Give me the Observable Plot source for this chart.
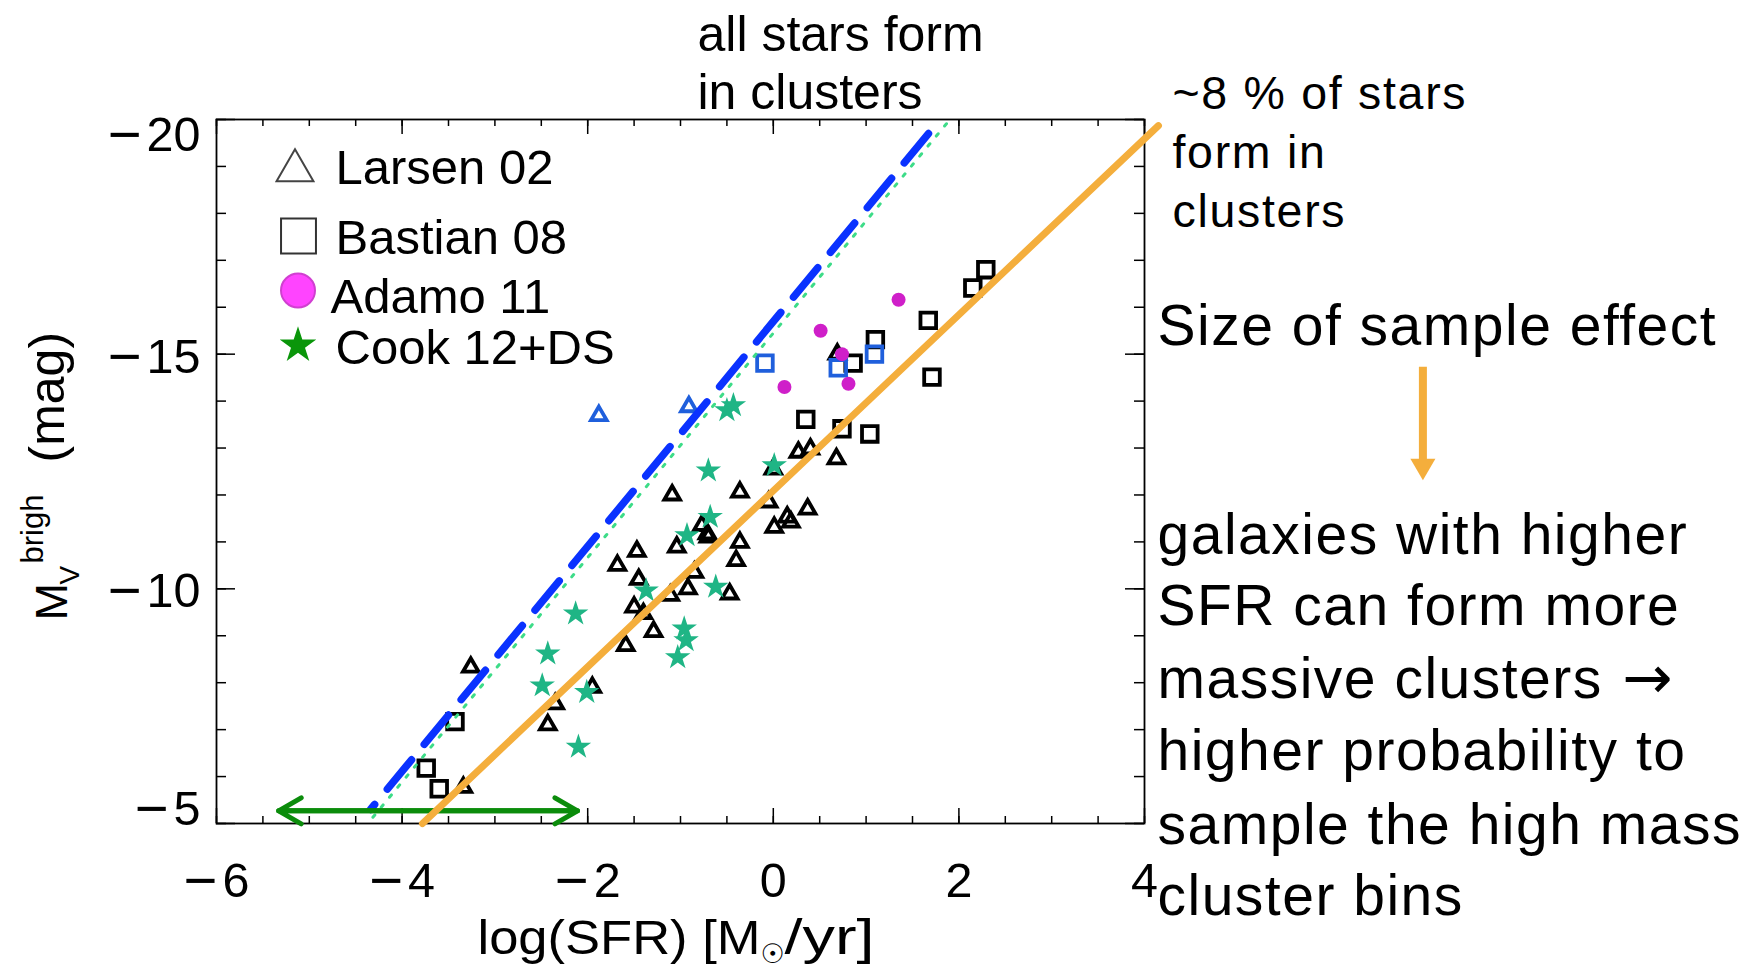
<!DOCTYPE html>
<html>
<head>
<meta charset="utf-8">
<script src="https://cdn.jsdelivr.net/npm/d3@7"></script>
<script src="https://cdn.jsdelivr.net/npm/@observablehq/plot@0.6"></script>
<style>
html, body { margin: 0; padding: 0; background: #fff; }
#chart svg { display: block; }
g[font-size="57"], g[font-size="57px"] { letter-spacing: 1.5px; }
g[font-size="46.5"], g[font-size="46.5px"] { letter-spacing: 1.7px; }
</style>
</head>
<body>
<div id="chart"></div>
<script>
// ---------------- data ----------------
// Larsen 02 (black open triangles)
const larsenX = [-3.26,-3.34,-2.35,-2.43,-1.95,-1.59,-1.29,-1.50,-1.40,-1.68,-1.47,-1.45,-1.11,-0.92,-0.47,-0.85,-1.04,-0.40,-0.36,-0.77,-0.71,-0.70,-1.09,-0.36,0.00,-0.05,0.37,0.15,0.19,0.01,0.27,0.40,0.68,0.69];
const larsenY = [-8.33,-5.77,-7.55,-7.10,-7.90,-8.79,-9.09,-9.61,-9.47,-10.50,-10.80,-10.20,-9.86,-10.00,-9.89,-10.35,-10.89,-10.60,-10.99,-11.35,-11.17,-11.10,-12.00,-12.06,-12.55,-11.85,-11.70,-11.53,-11.42,-11.31,-12.91,-12.98,-12.77,-15.00];
// Larsen 02 highlighted (blue open triangles)
const larsenBlueX = [-1.88,-0.91];
const larsenBlueY = [-13.69,-13.88];
// Bastian 08 (black open squares)
const bastianX = [-3.43,-3.74,-3.60,0.35,0.74,1.04,0.86,1.10,1.71,1.67,2.15,2.29];
const bastianY = [-7.17,-6.18,-5.74,-13.61,-13.41,-13.30,-14.81,-15.31,-14.51,-15.72,-16.41,-16.80];
// Bastian 08 highlighted (blue open squares)
const bastianBlueX = [-0.09,0.70,1.09];
const bastianBlueY = [-14.81,-14.71,-15.00];
// Adamo 11 (magenta dots)
const adamoX = [0.12,0.51,0.74,0.81,1.35];
const adamoY = [-14.30,-15.50,-15.00,-14.37,-16.16];
// Cook 12 + DS (green stars)
const cookX = [-0.50,-0.43,-0.70,0.01,-0.68,-0.93,-1.37,-0.62,-2.13,-0.96,-0.94,-1.03,-2.43,-2.49,-2.01,-2.10];
const cookY = [-13.80,-13.91,-12.52,-12.63,-11.53,-11.14,-9.96,-10.04,-9.47,-9.15,-8.90,-8.54,-8.62,-7.94,-7.80,-6.63];

// relations drawn as lines (end points)
const allClustersDashX = [1.672, -4.34];
const allClustersDashY = [-19.70, -5.30];
const allClustersDotX = [1.866, -4.37];
const allClustersDotY = [-19.91, -5.00];
const eightPctX = [-3.78, 4.15];
const eightPctY = [-5.00, -19.87];
// sample-size range (double arrow)
const rangeX = [-5.33, -2.11];
const rangeY = -5.27;

// axes
const xMajor = [-6, -4, -2, 0, 2, 4];
const xMinor = [-6,-5.5,-5,-4.5,-4,-3.5,-3,-2.5,-2,-1.5,-1,-0.5,0,0.5,1,1.5,2,2.5,3,3.5,4];
const yMajor = [-20, -15, -10, -5];
const yMinor = [-20,-19,-18,-17,-16,-15,-14,-13,-12,-11,-10,-9,-8,-7,-6,-5];

// legend
const legendLabels = ["Larsen 02", "Bastian 08", "Adamo 11", "Cook 12+DS"];

// texts
const noteTop = ["all stars form", "in clusters"];
const noteEight = ["~8 % of stars", "form in", "clusters"];
const noteSize = "Size of sample effect";
const noteBody = ["galaxies with higher", "SFR can form more", "massive clusters", "higher probability to", "sample the high mass", "cluster bins"];

// ---------------- build ----------------
const pts = (xs, ys) => xs.map((x, i) => ({x, y: ys[i]}));
const larsen = pts(larsenX, larsenY);
const larsenBlue = pts(larsenBlueX, larsenBlueY);
const bastian = pts(bastianX, bastianY);
const bastianBlue = pts(bastianBlueX, bastianBlueY);
const adamo = pts(adamoX, adamoY);
const cook = pts(cookX, cookY);
const dashLine = pts(allClustersDashX, allClustersDashY);
const dotLine = pts(allClustersDotX, allClustersDotY);
const eightLine = pts(eightPctX, eightPctY);

const W = 1751, H = 966, mL = 216, mR = 607, mT = 119, mB = 143;
const plotW = W - mL - mR, plotH = H - mT - mB;
const TICK_FS = 48.5;
const fmt = d => d < 0 ? "\u2212" + (-d) : String(d);

const ORANGE = "#f4ae3c", BLUE_LINE = "#0a32ff", DOT_GREEN = "#3ddc88",
      PT_BLUE = "#1f5fdc", MAGENTA = "#cf1fc9", TEAL = "#1fb585", DKGREEN = "#0b8c0b";

// one text line, baseline placed at pixel (px, baseline)
const line = (s, px, baseline, opts = {}) => Plot.text([s], {
  frameAnchor: "top-left", text: d => d, dx: px - mL, dy: baseline - mT,
  textAnchor: "start", lineAnchor: "bottom", ...opts
});
const block = (lines, px, baselines, opts) => lines.map((s, i) => line(s, px, baselines[i], opts));

const legendRows = [
  {sym: "triangle", cx: 294.5, cy: 170, r: 13.7, fill: "none", stroke: "#444", tx: 335, ty: 183},
  {sym: "square", cx: 298, cy: 235.5, r: 19.7, fill: "none", stroke: "#333", tx: 335, ty: 253},
  {sym: "circle", cx: 297.5, cy: 290, r: 17, fill: "#ff44ff", stroke: "#d040d0", tx: 330, ty: 312},
  {sym: "star", cx: 297.5, cy: 345, r: 11.5, fill: "#0a960a", stroke: "none", tx: 335, ty: 363}
];

const midY = mT + plotH / 2;
const marks = [
  // ticks (inside, on all four sides)
  Plot.ruleX(xMajor, {x: d => d, insetTop: plotH - 15, stroke: "black", strokeWidth: 1.5}),
  Plot.ruleX(xMajor, {x: d => d, insetBottom: plotH - 15, stroke: "black", strokeWidth: 1.5}),
  Plot.ruleX(xMinor, {x: d => d, insetTop: plotH - 7, stroke: "black", strokeWidth: 1.5}),
  Plot.ruleX(xMinor, {x: d => d, insetBottom: plotH - 7, stroke: "black", strokeWidth: 1.5}),
  Plot.ruleY(yMajor, {y: d => d, insetRight: plotW - 19, stroke: "black", strokeWidth: 1.5}),
  Plot.ruleY(yMajor, {y: d => d, insetLeft: plotW - 19, stroke: "black", strokeWidth: 1.5}),
  Plot.ruleY(yMinor, {y: d => d, insetRight: plotW - 10, stroke: "black", strokeWidth: 1.5}),
  Plot.ruleY(yMinor, {y: d => d, insetLeft: plotW - 10, stroke: "black", strokeWidth: 1.5}),
  Plot.frame({stroke: "black", strokeWidth: 1.8}),

  // tick labels
  Plot.text(xMajor, {x: d => d, frameAnchor: "bottom", text: fmt, fontSize: TICK_FS, lineAnchor: "bottom", dy: 896 - (H - mB)}),
  Plot.text(yMajor.slice(0, 1), {y: d => d, frameAnchor: "left", text: fmt, fontSize: TICK_FS, textAnchor: "end", dx: -16, lineAnchor: "bottom", dy: 31}),
  Plot.text(yMajor.slice(1, 3), {y: d => d, frameAnchor: "left", text: fmt, fontSize: TICK_FS, textAnchor: "end", dx: -16, lineAnchor: "middle", dy: 3}),
  Plot.text(yMajor.slice(3), {y: d => d, frameAnchor: "left", text: fmt, fontSize: TICK_FS, textAnchor: "end", dx: -16, lineAnchor: "bottom", dy: 1}),

  // x axis title: log(SFR) [M_sun/yr]
  line("log(SFR) [M", 477, 953, {fontSize: 48}),
  line("\u2609", 760, 962, {fontSize: 27, fontFamily: "DejaVu Sans"}),
  line("/yr]", 784, 953, {fontSize: 50}),

  // y axis title: M_V^brigh (mag), rotated
  Plot.text(["M"], {frameAnchor: "left", text: d => d, dx: 66 - mL, dy: 620 - midY, rotate: -90, textAnchor: "start", lineAnchor: "bottom", fontSize: 45}),
  Plot.text(["V"], {frameAnchor: "left", text: d => d, dx: 78 - mL, dy: 584 - midY, rotate: -90, textAnchor: "start", lineAnchor: "bottom", fontSize: 28}),
  Plot.text(["brigh"], {frameAnchor: "left", text: d => d, dx: 42 - mL, dy: 563 - midY, rotate: -90, textAnchor: "start", lineAnchor: "bottom", fontSize: 31}),
  Plot.text(["(mag)"], {frameAnchor: "left", text: d => d, dx: 63 - mL, dy: 462 - midY, rotate: -90, textAnchor: "start", lineAnchor: "bottom", fontSize: 50}),

  // data points
  Plot.dot(larsen, {x: "x", y: "y", symbol: "triangle", r: 5.8, stroke: "black", strokeWidth: 3.8, fill: "none"}),
  Plot.dot(bastian, {x: "x", y: "y", symbol: "square", r: 8.8, stroke: "black", strokeWidth: 3.8, fill: "none"}),
  Plot.dot(larsenBlue, {x: "x", y: "y", symbol: "triangle", r: 5.8, stroke: PT_BLUE, strokeWidth: 3.8, fill: "none"}),
  Plot.dot(bastianBlue, {x: "x", y: "y", symbol: "square", r: 8.8, stroke: PT_BLUE, strokeWidth: 3.8, fill: "none"}),
  Plot.dot(adamo, {x: "x", y: "y", r: 7, fill: MAGENTA, stroke: "none"}),
  Plot.dot(cook, {x: "x", y: "y", symbol: "star", r: 8, fill: TEAL, stroke: "none"}),

  // relations
  Plot.line(dotLine, {x: "x", y: "y", stroke: DOT_GREEN, strokeWidth: 3, strokeDasharray: "3,10"}),
  Plot.line(dashLine, {x: "x", y: "y", stroke: BLUE_LINE, strokeWidth: 7.5, strokeDasharray: "38,20"}),
  Plot.arrow([{}], {x1: rangeX[0], x2: rangeX[1], y1: rangeY, y2: rangeY, stroke: DKGREEN, strokeWidth: 5, headLength: 7.8, headAngle: 60}),
  Plot.arrow([{}], {x1: rangeX[1], x2: rangeX[0], y1: rangeY, y2: rangeY, stroke: DKGREEN, strokeWidth: 5, headLength: 7.8, headAngle: 60}),
  Plot.line(eightLine, {x: "x", y: "y", stroke: ORANGE, strokeWidth: 7}),

  // legend
  ...legendRows.map((row, i) => Plot.dot([legendLabels[i]], {frameAnchor: "top-left", dx: row.cx - mL, dy: row.cy - mT, symbol: row.sym, r: row.r, fill: row.fill, stroke: row.stroke, strokeWidth: 2})),
  ...legendRows.map((row, i) => line(legendLabels[i], row.tx, row.ty, {fontSize: 49})),

  // annotations
  ...block(noteTop, 697, [50, 108], {fontSize: 50}),
  ...block(noteEight, 1172, [108, 167, 226], {fontSize: 46.5}),
  line(noteSize, 1157, 344, {fontSize: 57}),
  ...block(noteBody, 1157, [553, 624, 697, 769, 843, 914], {fontSize: 57}),
  line("\u2192", 1622, 697, {fontSize: 60, fontFamily: "DejaVu Sans"}),

  // orange arrow in the annotation column
  Plot.ruleX([7.0], {x: d => d, y1: -14.72, y2: -12.7, stroke: ORANGE, strokeWidth: 8}),
  Plot.dot([7.0], {x: d => d, y: () => -12.62, symbol: "triangle", rotate: 180, r: 9.3, fill: ORANGE, stroke: "none"})
];

const chart = Plot.plot({
  width: W, height: H,
  marginLeft: mL, marginRight: mR, marginTop: mT, marginBottom: mB,
  x: {type: "linear", domain: [-6, 4], axis: null},
  y: {type: "linear", domain: [-20, -5], reverse: true, axis: null},
  style: {fontFamily: "'Liberation Sans', Arial, Helvetica, sans-serif", background: "white", color: "black", overflow: "visible"},
  marks
});
document.getElementById("chart").appendChild(chart);

// axis-title pieces: widen to the widths seen in the picture
const stretch = {"log(SFR) [M": 283, "/yr]": 90};
d3.select(chart).selectAll("text").each(function() {
  const s = stretch[this.textContent];
  if (s) {
    this.setAttribute("textLength", s);
    this.setAttribute("lengthAdjust", "spacingAndGlyphs");
  }
});

// tick labels: draw the minus sign long, as in the picture
d3.select(chart).selectAll("g").filter(function() {
  return parseFloat(this.getAttribute("font-size")) === TICK_FS;
}).selectAll("text").each(function() {
  const t = this.textContent;
  if (t.startsWith("\u2212")) {
    const sel = d3.select(this);
    sel.text(null);
    sel.append("tspan").attr("font-size", 58).attr("dy", 3).text("\u2212");
    sel.append("tspan").attr("dx", 5).attr("dy", -3).text(t.slice(1));
  }
});
</script>
</body>
</html>
